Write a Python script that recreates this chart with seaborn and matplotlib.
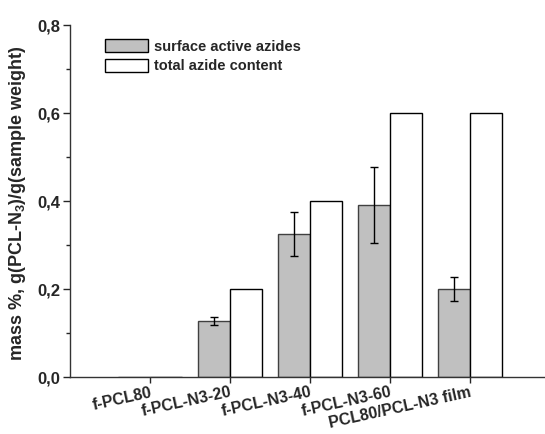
import numpy as np
import pandas as pd
import seaborn as sns
import matplotlib.pyplot as plt
from matplotlib.ticker import MultipleLocator, FuncFormatter

samples = ['f-PCL80', 'f-PCL-N3-20', 'f-PCL-N3-40', 'f-PCL-N3-60', 'PCL80/PCL-N3 film']
surface = [0.0, 0.127, 0.325, 0.392, 0.200]
surface_err = [0.0, 0.009, 0.050, 0.086, 0.028]
total = [0.0, 0.2, 0.4, 0.6, 0.6]
series = ['surface active azides', 'total azide content']

df = pd.DataFrame({
    'sample': samples * 2,
    'value': surface + total,
    'kind': [series[0]] * len(samples) + [series[1]] * len(samples),
})

sns.set_style('ticks')
plt.rcParams['font.family'] = ['Liberation Sans', 'DejaVu Sans']
plt.rcParams['font.weight'] = 'bold'
plt.rcParams['mathtext.fontset'] = 'custom'
plt.rcParams['mathtext.bf'] = 'Liberation Sans:bold'
plt.rcParams['mathtext.rm'] = 'Liberation Sans:bold'

fig = plt.figure(figsize=(5.45, 4.34), dpi=100)
ax = fig.add_axes([0.128, 0.131, 0.872, 0.811])

sns.barplot(data=df, x='sample', y='value', hue='kind', hue_order=series,
            palette=['#c0c0c0', 'white'], width=0.8, errorbar=None, ax=ax,
            edgecolor='black', linewidth=1.0, saturation=1)
for p in ax.patches[:len(samples)]:
    p.set_edgecolor('#404040')

xs = np.arange(len(samples)) - 0.2
for x, v, e in zip(xs, surface, surface_err):
    if e > 0:
        ax.errorbar(x, v, yerr=e, color='black', capsize=3, lw=1, capthick=1)

ax.set_xlim(-1, 4.94)
ax.set_ylim(0, 0.8)
ax.yaxis.set_major_locator(MultipleLocator(0.2))
ax.yaxis.set_minor_locator(MultipleLocator(0.1))
ax.yaxis.set_major_formatter(FuncFormatter(lambda v, p: f'{v:.1f}'.replace('.', ',')))
ax.tick_params(axis='y', which='major', length=5, width=1, labelsize=12, direction='out', pad=2)
ax.tick_params(axis='y', which='minor', length=3, width=1, direction='out')
ax.tick_params(axis='x', length=4, width=1, labelsize=11.5, direction='out', pad=1.5)
for lbl in ax.get_xticklabels():
    lbl.set_rotation(12.5)
    lbl.set_ha('right')
    lbl.set_rotation_mode('anchor')
    lbl.set_fontweight('bold')
for lbl in ax.get_yticklabels():
    lbl.set_fontweight('bold')

sns.despine(ax=ax)
for s in ['left', 'bottom']:
    ax.spines[s].set_linewidth(1.0)
    ax.spines[s].set_color('#333333')

ax.set_xlabel('')
ax.set_ylabel('mass %, g(PCL-N$_\\mathbf{3}$)/g(sample weight)', fontsize=13, fontweight='bold')
ax.yaxis.set_label_coords(-0.088, 0.494)

leg = ax.legend(loc='upper left', bbox_to_anchor=(0.168, 0.94), bbox_transform=fig.transFigure,
                frameon=False, handlelength=3.0, handleheight=1.0, handletextpad=0.4,
                labelspacing=0.35, prop={'weight': 'bold', 'size': 10.5})

fig.savefig('out.png', dpi=100)
